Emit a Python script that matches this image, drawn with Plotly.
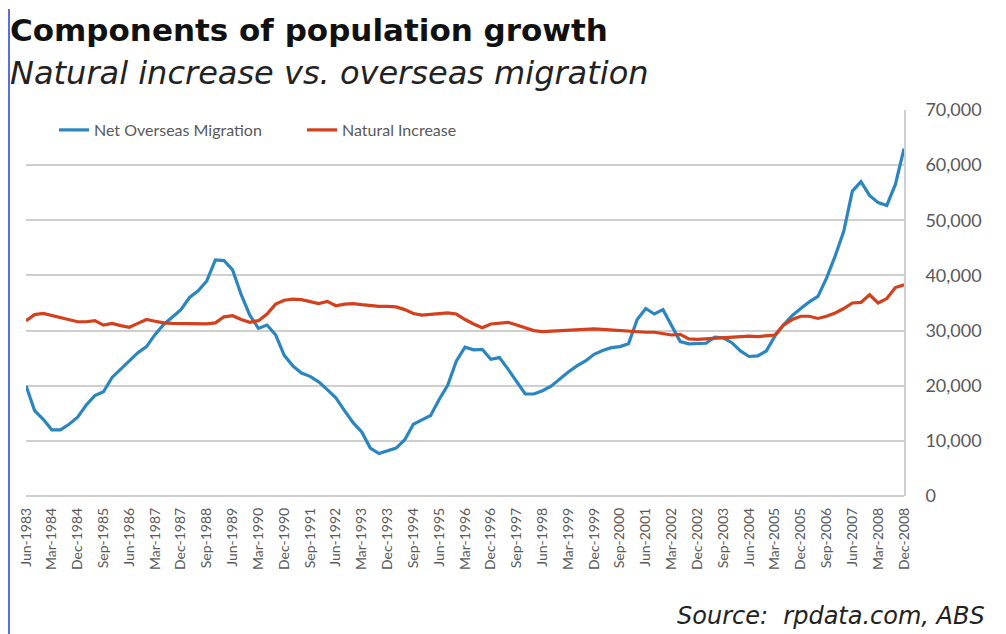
import plotly.graph_objects as go

# Quarterly periods, Jun-1983 .. Dec-2008
months = ["Jun", "Sep", "Dec", "Mar"]
start_year = 1983
n_quarters = 103
quarters = []
for i in range(n_quarters):
    m = months[i % 4]
    y = start_year + (i + 1) // 4
    quarters.append(f"{m}-{y}")

net_overseas_migration = [
    20000, 15500, 13900, 12000, 12000, 13000, 14300, 16500, 18200, 18900,
    21500, 23000, 24300, 26000, 27100, 29300, 31100, 32500, 33800, 36000,
    37200, 39000, 42800, 42700, 41000, 36500, 32800, 30400, 31000, 29200,
    25500, 23600, 22300, 21700, 20700, 19300, 17800, 15500, 13300, 11600,
    8700, 7700, 8200, 8700, 10200, 13000, 13800, 14600, 17500, 20100,
    24500, 27000, 26500, 26600, 24800, 25100, 23000, 20700, 18500, 18500,
    19100, 19900, 21200, 22500, 23600, 24500, 25700, 26400, 26900, 27100,
    27600, 32000, 34000, 33000, 33800, 31000, 28000, 27600, 27700, 27700,
    28800, 28700, 27800, 26300, 25300, 25400, 26300, 29000, 31000, 32700,
    34000, 35200, 36200, 39500, 43500, 48000, 55300, 57000, 54500, 53200,
    52700, 56500, 63000,
]

natural_increase = [
    31800, 32900, 33100, 32700, 32300, 31900, 31600, 31600, 31800, 31000,
    31300, 30900, 30600, 31300, 32000, 31700, 31400, 31300, 31300, 31300,
    31200, 31200, 31400, 32500, 32700, 32000, 31500, 31800, 33000, 34800,
    35500, 35700, 35600, 35200, 34900, 35300, 34500, 34800, 34900, 34700,
    34500, 34400, 34400, 34300, 33800, 33100, 32800, 32900, 33000, 33200,
    33000, 32000, 31200, 30500, 31200, 31300, 31500, 31000, 30500, 30000,
    29800, 29900, 30000, 30100, 30200, 30300, 30300, 30200, 30100, 30000,
    29900, 29700, 29700, 29700, 29500, 29200, 29300, 28500, 28400, 28500,
    28700, 28800, 28900, 29000, 29000, 28900, 29000, 29200, 31000, 32000,
    32600, 32600, 32200, 32600, 33200, 34000, 35000, 35100, 36500, 35000,
    35800, 37800, 38300,
]

y_ticks = [0, 10000, 20000, 30000, 40000, 50000, 60000, 70000]
tick_step = 3

# page has an 8px body margin: figure drawn at screen offset (8, 8)
OFF = 8
W, H = 1006 - OFF, 634 - OFF
# plot area in screen pixels: x 26..904, y 110..496
SL, SR, ST, SB = 26, 904, 110, 496
ML, MR, MT, MB = SL - OFF, W - (SR - OFF), ST - OFF, H - (SB - OFF)
PW, PH = SR - SL, SB - ST


def px(x):
    return (x - SL) / PW


def py(y):
    return (SB - y) / PH


BLUE = "#2b86c0"
RED = "#d4401c"
GRID = "#cfcfcf"
TXT = "#595959"

fig = go.Figure()
fig.add_trace(go.Scatter(
    x=quarters, y=net_overseas_migration, mode="lines",
    name="Net Overseas Migration",
    line=dict(color=BLUE, width=3.2),
))
fig.add_trace(go.Scatter(
    x=quarters, y=natural_increase, mode="lines",
    name="Natural Increase",
    line=dict(color=RED, width=3.2),
))

fig.update_layout(
    width=W, height=H,
    margin=dict(l=ML, r=MR, t=MT, b=MB, autoexpand=False),
    paper_bgcolor="white", plot_bgcolor="white",
    showlegend=True,
    legend=dict(
        orientation="h", x=px(54), y=py(130), xanchor="left", yanchor="middle",
        font=dict(family="Lato", size=16, color=TXT),
        bgcolor="rgba(0,0,0,0)", entrywidth=203, entrywidthmode="pixels",
    ),
    xaxis=dict(
        type="category", range=[0, n_quarters - 1],
        tickmode="array", tickvals=quarters[::tick_step], ticktext=quarters[::tick_step],
        tickangle=-90, tickfont=dict(family="Lato", size=14, color=TXT),
        showgrid=False, showline=False, ticks="", zeroline=False,
        ticklabelstandoff=8,
    ),
    yaxis=dict(
        side="right", range=[0, 70000], tickvals=y_ticks,
        tickformat=",d", tickfont=dict(family="Lato", size=18, color=TXT),
        showgrid=True, gridcolor=GRID, gridwidth=1.6,
        showline=True, linecolor=GRID, linewidth=1.6,
        zeroline=True, zerolinecolor=GRID, zerolinewidth=1.6,
        ticks="", ticklabelstandoff=16,
    ),
    annotations=[
        dict(text="<b>Components of population growth</b>", xref="paper", yref="paper",
             x=px(8), y=py(30), xanchor="left", yanchor="middle", showarrow=False,
             font=dict(family="DejaVu Sans", size=31, color="#111111")),
        dict(text="<i>Natural increase vs. overseas migration</i>", xref="paper", yref="paper",
             x=px(8), y=py(73), xanchor="left", yanchor="middle", showarrow=False,
             font=dict(family="DejaVu Sans", size=32, color="#222222")),
        dict(text="<i>Source:  rpdata.com, ABS</i>", xref="paper", yref="paper",
             x=px(987), y=py(616), xanchor="right", yanchor="middle", showarrow=False,
             font=dict(family="DejaVu Sans", size=24, color="#222222")),
    ],
    shapes=[
        dict(type="line", xref="paper", yref="paper", x0=px(9), x1=px(9), y0=py(9), y1=py(640),
             line=dict(color="#5a6ee0", width=2)),
    ],
)

fig.write_html("out.html")
